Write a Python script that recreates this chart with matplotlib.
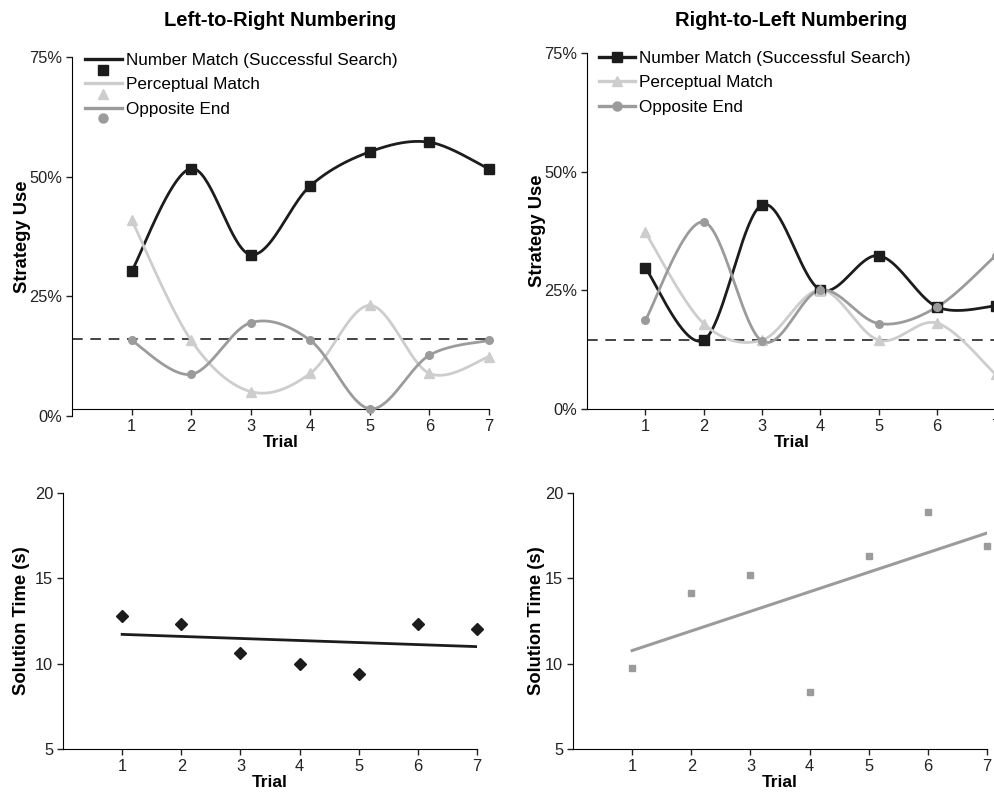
import numpy as np
import matplotlib
matplotlib.use("Agg")
import matplotlib.pyplot as plt
from matplotlib.legend_handler import HandlerLine2D
from matplotlib.lines import Line2D

plt.rcParams['font.family'] = ['Liberation Sans', 'DejaVu Sans']

# ---- data ----
trials = [1, 2, 3, 4, 5, 6, 7]

# strategy use (%), left-to-right numbering
ltr_number = [30.2, 51.7, 33.7, 48.1, 55.2, 57.2, 51.6]
ltr_percept = [41.0, 15.8, 5.1, 8.9, 23.1, 8.9, 12.4]
ltr_opposite = [15.8, 8.7, 19.5, 15.8, 1.5, 12.7, 15.8]
ltr_chance = 16.0

# strategy use (%), right-to-left numbering
rtl_number = [29.7, 14.5, 43.0, 25.1, 32.3, 21.5, 21.7]
rtl_percept = [37.2, 18.0, 14.5, 25.1, 14.5, 18.1, 7.3]
rtl_opposite = [18.7, 39.4, 14.3, 25.1, 18.0, 21.5, 32.3]
rtl_chance = 14.6

# solution time (s)
ltr_time = [12.8, 12.3, 10.6, 10.0, 9.4, 12.35, 12.05]
rtl_time = [9.73, 14.13, 15.19, 8.34, 16.32, 18.86, 16.91]

labels = ['Number Match (Successful Search)', 'Perceptual Match', 'Opposite End']

W, H = 995, 798
C_DARK = '#1c1c1c'
C_LIGHT = '#cdcdcd'
C_MID = '#9b9b9b'


def smooth(x, y, n=40):
    """Excel-like smoothed line (Catmull-Rom Bezier) through the points"""
    x = np.asarray(x, float)
    y = np.asarray(y, float)
    px = np.concatenate([[x[0]], x, [x[-1]]])
    py = np.concatenate([[y[0]], y, [y[-1]]])
    t = np.linspace(0, 1, n)[:, None]
    out = []
    for i in range(len(x) - 1):
        p0 = np.array([px[i], py[i]])
        p1 = np.array([px[i + 1], py[i + 1]])
        p2 = np.array([px[i + 2], py[i + 2]])
        p3 = np.array([px[i + 3], py[i + 3]])
        c1 = p1 + (p2 - p0) / 6
        c2 = p2 - (p3 - p1) / 6
        seg = ((1 - t) ** 3) * p1 + 3 * ((1 - t) ** 2) * t * c1 + 3 * (1 - t) * t ** 2 * c2 + t ** 3 * p2
        out.append(seg)
    out = np.vstack(out)
    return out[:, 0], out[:, 1]


class HandlerDrop(HandlerLine2D):
    """legend entry with the marker sitting below the line"""
    def create_artists(self, legend, orig_handle, xdescent, ydescent,
                       width, height, fontsize, trans):
        y = (height - ydescent) / 2
        line = Line2D([-xdescent, -xdescent + width], [y, y])
        self.update_prop(line, orig_handle, legend)
        line.set_marker('None')
        mark = Line2D([-xdescent + width / 2], [y - 0.62 * fontsize])
        self.update_prop(mark, orig_handle, legend)
        mark.set_linestyle('None')
        line.set_transform(trans)
        mark.set_transform(trans)
        return [line, mark]


def px_axes(fig, l, r, t, b):
    return fig.add_axes([l / W, 1 - b / H, (r - l) / W, (b - t) / H])


def style(ax, ylim, yticks, ylabels, ylab, ylab_x):
    ax.set_xlim(0, 7)
    ax.set_ylim(*ylim)
    ax.set_xticks(trials)
    ax.set_yticks(yticks)
    ax.set_yticklabels(ylabels)
    ax.spines['top'].set_visible(False)
    ax.spines['right'].set_visible(False)
    ax.tick_params(direction='out', length=4, width=1, labelsize=11.8, pad=3, colors='#222222')
    ax.set_xlabel('Trial', fontsize=12.5, fontweight='bold', labelpad=1)
    ax.set_ylabel(ylab, fontsize=13.2, fontweight='bold')
    ax.yaxis.set_label_coords(ylab_x, 0.5)
    ax.patch.set_alpha(0)


def strategy_panel(ax, number, percept, opposite, chance):
    series = [(number, C_DARK, 's', 6.5), (percept, C_LIGHT, '^', 6.5), (opposite, C_MID, 'o', 5.5)]
    handles = []
    for (vals, c, m, ms), lab in zip(series, labels):
        sx, sy = smooth(trials, vals)
        ax.plot(sx, sy, color=c, lw=2.0, solid_capstyle='round', zorder=3)
        ax.plot(trials, vals, ls='none', marker=m, ms=ms, color=c, clip_on=False, zorder=4)
        h, = ax.plot([], [], color=c, lw=2.4, marker=m, ms=ms + 1)
        handles.append(h)
    ax.axhline(chance, color='#111111', lw=1.1, dashes=(7, 5), zorder=2)
    return handles


fig = plt.figure(figsize=(W / 100, H / 100), dpi=100)

# top-left
ax1 = px_axes(fig, 72, 489, 57, 416)
h1 = strategy_panel(ax1, ltr_number, ltr_percept, ltr_opposite, ltr_chance)
style(ax1, (0, 75), [0, 25, 50, 75], ['0%', '25%', '50%', '75%'], 'Strategy Use', -0.098)
ax1.spines['bottom'].set_position(('data', 1.5))
fig.text(280 / W, 1 - 20 / H, 'Left-to-Right Numbering', fontsize=14.5, fontweight='bold',
         ha='center', va='center')
ax1.legend(handles=h1, labels=labels, loc='upper left', bbox_to_anchor=(85 / W, 1 - 53 / H),
           bbox_transform=fig.transFigure, frameon=False, fontsize=12.3, handlelength=2.15,
           handletextpad=0.25, labelspacing=0.55, borderpad=0, borderaxespad=0,
           handler_map={h: HandlerDrop() for h in h1})

# top-right
ax2 = px_axes(fig, 587, 995.5, 53, 409)
h2 = strategy_panel(ax2, rtl_number, rtl_percept, rtl_opposite, rtl_chance)
style(ax2, (0, 75), [0, 25, 50, 75], ['0%', '25%', '50%', '75%'], 'Strategy Use', -0.100)
fig.text(791 / W, 1 - 20 / H, 'Right-to-Left Numbering', fontsize=14.5, fontweight='bold',
         ha='center', va='center')
ax2.legend(handles=h2, labels=labels, loc='upper left', bbox_to_anchor=(599 / W, 1 - 51 / H),
           bbox_transform=fig.transFigure, frameon=False, fontsize=12.3, handlelength=2.1,
           handletextpad=0.25, labelspacing=0.55, borderpad=0, borderaxespad=0)

# bottom-left
ax3 = px_axes(fig, 63, 477, 493, 749)
ax3.plot(trials, ltr_time, ls='none', marker='D', ms=5.8, color=C_DARK, clip_on=False, zorder=4)
k, b0 = np.polyfit(trials, ltr_time, 1)
ax3.plot([1, 7], [k * 1 + b0, k * 7 + b0], color=C_DARK, lw=2.0, zorder=3)
style(ax3, (5, 20), [5, 10, 15, 20], ['5', '10', '15', '20'], 'Solution Time (s)', -0.080)

# bottom-right
ax4 = px_axes(fig, 573, 987, 493, 749)
ax4.plot(trials, rtl_time, ls='none', marker='s', ms=4.8, color=C_MID, clip_on=False, zorder=4)
k, b0 = np.polyfit(trials, rtl_time, 1)
ax4.plot([1, 7], [k * 1 + b0, k * 7 + b0], color=C_MID, lw=2.2, zorder=3)
style(ax4, (5, 20), [5, 10, 15, 20], ['5', '10', '15', '20'], 'Solution Time (s)', -0.068)

fig.savefig('out.png', dpi=100)
